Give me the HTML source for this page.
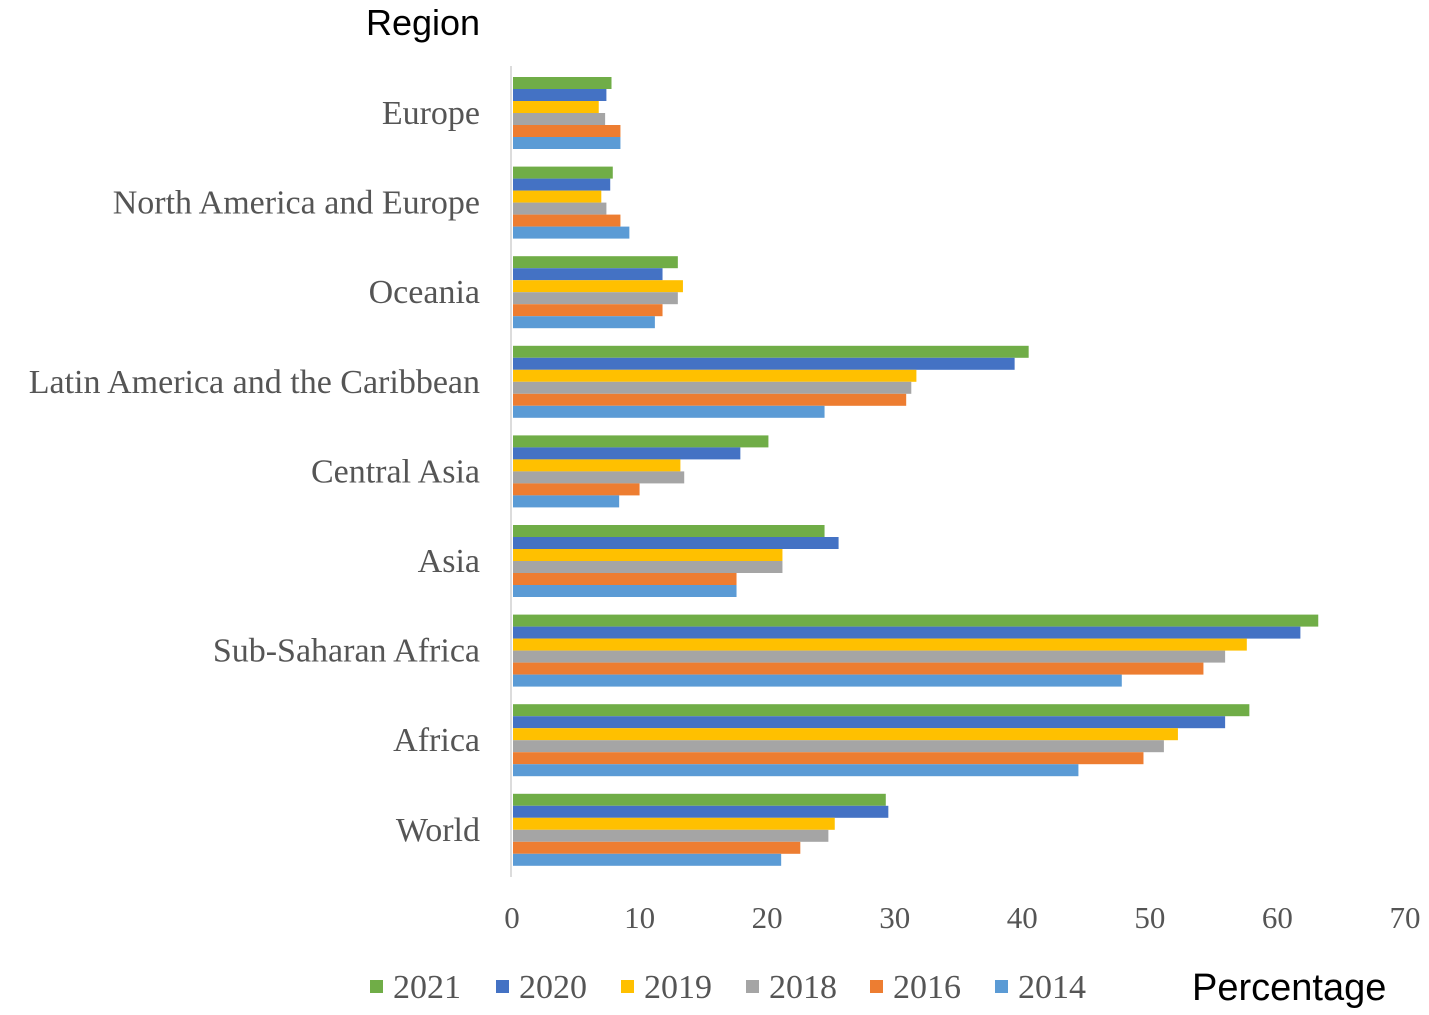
<!DOCTYPE html>
<html><head><meta charset="utf-8"><style>
body{margin:0;background:#fff;width:1429px;height:1015px;overflow:hidden}
svg{display:block}
</style></head><body>
<svg id="chart" width="1429" height="1015" xmlns="http://www.w3.org/2000/svg"></svg>
<script>
const categories=["Europe","North America and Europe","Oceania","Latin America and the Caribbean","Central Asia","Asia","Sub-Saharan Africa","Africa","World"];
const seriesNames=["2021","2020","2019","2018","2016","2014"];
const s2021=[7.8,7.9,13.0,40.5,20.1,24.5,63.2,57.8,29.3];
const s2020=[7.4,7.7,11.8,39.4,17.9,25.6,61.8,55.9,29.5];
const s2019=[6.8,7.0,13.4,31.7,13.2,21.2,57.6,52.2,25.3];
const s2018=[7.3,7.4,13.0,31.3,13.5,21.2,55.9,51.1,24.8];
const s2016=[8.5,8.5,11.8,30.9,10.0,17.6,54.2,49.5,22.6];
const s2014=[8.5,9.2,11.2,24.5,8.4,17.6,47.8,44.4,21.1];
const xTicks=[0,10,20,30,40,50,60,70];
const series=[s2021,s2020,s2019,s2018,s2016,s2014];
const colors=["#70ad47","#4472c4","#ffc000","#a5a5a5","#ed7d31","#5b9bd5"];
const svg=document.getElementById('chart');
const NS="http://www.w3.org/2000/svg";
const x0=512,pxPer=(1405-512)/70;
const x=v=>x0+v*pxPer;
const groupTop=i=>77+i*89.6;
const barH=12;
function mk(tag,attrs,text){const e=document.createElementNS(NS,tag);for(const k in attrs)e.setAttribute(k,attrs[k]);if(text!==undefined)e.textContent=text;svg.appendChild(e);return e;}
let t=mk('text',{x:366,y:35,'font-family':'Liberation Sans, sans-serif','font-size':36,fill:'#000'},'Region');


let ax=mk('line',{x1:511,y1:66,x2:511,y2:877,stroke:'#d0d0d0','stroke-width':1.5});


categories.forEach((c,i)=>{
  const gy=groupTop(i);
  const lb=mk('text',{x:480,y:gy+47,'text-anchor':'end','font-family':'Liberation Serif, serif','font-size':34,fill:'#555'},c);
  
  
  series.forEach((s,j)=>{
    const r=mk('rect',{x:x0+1,y:gy+j*barH,width:Math.max(0,x(s[i])-x0-1),height:barH,fill:colors[j]});
    
    
  });
});
xTicks.forEach(v=>{
  const tk=mk('text',{x:x(v),y:928,'text-anchor':'middle','font-family':'Liberation Serif, serif','font-size':31,fill:'#555'},String(v));
  
  
});
const legX=[370,496,621,746,870,995];
seriesNames.forEach((n,j)=>{
  const sq=mk('rect',{x:legX[j],y:980,width:13,height:13,fill:colors[j]});
  
  
  const lt=mk('text',{x:legX[j]+23,y:998,'font-family':'Liberation Serif, serif','font-size':34,fill:'#555'},n);
  
  
});
const xt=mk('text',{x:1192,y:1000,'font-family':'Liberation Sans, sans-serif','font-size':38,fill:'#000'},'Percentage');


</script>
</body></html>
